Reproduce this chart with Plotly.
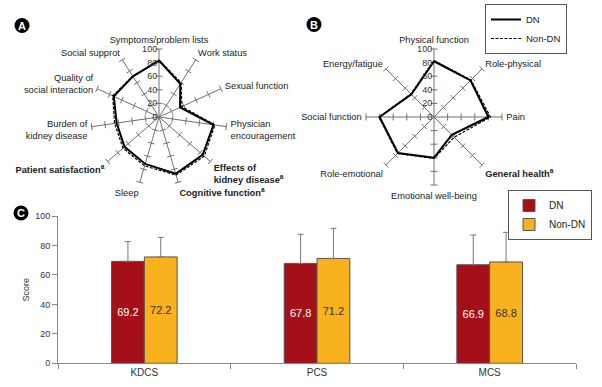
import plotly.graph_objects as go

# ---------- Data ----------
kdq_labels = [
    "Symptoms/problem lists",
    "Work status",
    "Sexual function",
    "Physician<br>encouragement",
    "<b>Effects of<br>kidney disease<sup>a</sup></b>",
    "<b>Cognitive function<sup>a</sup></b>",
    "Sleep",
    "<b>Patient satisfaction<sup>a</sup></b>",
    "Burden of<br>kidney disease",
    "Quality of<br>social interaction",
    "Social supprot",
]
kdq_dn = [83, 58, 34, 81, 85, 87, 72, 67, 63, 73, 71]
kdq_nondn = [84, 60, 37, 83, 88, 89, 75, 70, 66, 75, 71]

sf_labels = [
    "Physical function",
    "Role-physical",
    "Pain",
    "<b>General health<sup>a</sup></b>",
    "Emotional well-being",
    "Role-emotional",
    "Social function",
    "Energy/fatigue",
]
sf_dn = [82, 76, 80, 37, 60, 75, 80, 47]
sf_nondn = [83, 77, 83, 42, 61, 76, 81, 48]

bar_cats = ["KDCS", "PCS", "MCS"]
bar_dn = [69.2, 67.8, 66.9]
bar_nondn = [72.2, 71.2, 68.8]
sd_dn = [13.4, 19.8, 20.2]
sd_nondn = [13.3, 20.4, 20.1]

radial_ticks = [0, 20, 40, 60, 80, 100]

DN_RED = "#a50f17"
NON_ORANGE = "#fab11e"
FONT = "Arial, Liberation Sans, sans-serif"

fig = go.Figure()


def add_radar(labels, dn, nondn, polar, show_legend):
    n = len(labels)
    # spoke tick crosses
    rr, tt, aa = [], [], []
    for i, lab in enumerate(labels):
        for v in radial_ticks[1:]:
            rr.append(v)
            tt.append(lab)
            aa.append(i * 360.0 / n)
    fig.add_trace(go.Scatterpolar(
        r=rr, theta=tt, mode="markers", subplot=polar,
        marker=dict(symbol="line-ew", size=5, angle=aa,
                    line=dict(color="#707070", width=1)),
        showlegend=False, hoverinfo="skip"))
    fig.add_trace(go.Scatterpolar(
        r=dn + dn[:1], theta=labels + labels[:1], mode="lines",
        subplot=polar, name="DN", legend="legend",
        line=dict(color="black", width=2),
        showlegend=show_legend))
    fig.add_trace(go.Scatterpolar(
        r=nondn + nondn[:1], theta=labels + labels[:1], mode="lines",
        subplot=polar, name="Non-DN", legend="legend",
        line=dict(color="black", width=1.2, dash="3px,1.5px"),
        showlegend=show_legend))


add_radar(kdq_labels, kdq_dn, kdq_nondn, "polar", False)
add_radar(sf_labels, sf_dn, sf_nondn, "polar2", True)

# bars
fig.add_trace(go.Bar(
    x=bar_cats, y=bar_dn, name="DN", legend="legend2",
    marker=dict(color=DN_RED, line=dict(color="#555555", width=1)),
    text=[f"{v:.1f}" for v in bar_dn], textposition="inside",
    insidetextanchor="middle", textangle=0,
    textfont=dict(color="white", size=11, family=FONT),
    error_y=dict(type="data", symmetric=False, array=sd_dn,
                 arrayminus=[0] * 3, color="#777777", thickness=1, width=3)))
fig.add_trace(go.Bar(
    x=bar_cats, y=bar_nondn, name="Non-DN", legend="legend2",
    marker=dict(color=NON_ORANGE, line=dict(color="#555555", width=1)),
    text=[f"{v:.1f}" for v in bar_nondn], textposition="inside",
    insidetextanchor="middle", textangle=0,
    textfont=dict(color="#333333", size=11, family=FONT),
    error_y=dict(type="data", symmetric=False, array=sd_nondn,
                 arrayminus=[0] * 3, color="#777777", thickness=1, width=3)))

W, H = 602, 387


def px_x(v):
    return v / W


def px_y(v):
    return 1 - v / H


polar_common = dict(
    bgcolor="rgba(0,0,0,0)",
    radialaxis=dict(range=[0, 100], tickvals=radial_ticks, showline=False,
                    showgrid=False, ticks="", angle=90, tickangle=90,
                    side="counterclockwise",
                    tickfont=dict(size=9, color="#333333", family=FONT)),
    angularaxis=dict(direction="clockwise", rotation=90, showline=False,
                     showgrid=True, gridcolor="#707070", gridwidth=1,
                     ticks="outside", ticklen=2, tickcolor="rgba(0,0,0,0)",
                     tickfont=dict(size=9.3, color="#222222", family=FONT)),
)

fig.update_layout(
    width=W, height=H,
    margin=dict(l=0, r=0, t=0, b=0),
    paper_bgcolor="white", plot_bgcolor="white",
    font=dict(family=FONT, color="#333333"),
    barmode="group", bargap=0.62, bargroupgap=0,
    polar=dict(domain=dict(x=[px_x(91), px_x(227)], y=[px_y(185), px_y(49)]),
               **polar_common),
    polar2=dict(domain=dict(x=[px_x(366), px_x(502)], y=[px_y(185), px_y(49)]),
                **polar_common),
    xaxis=dict(domain=[px_x(58), px_x(576)], automargin=False,
               showline=True, linecolor="#888888", linewidth=1,
               ticks="outside", tickson="boundaries", ticklen=5,
               tickcolor="#888888", type="category",
               tickfont=dict(size=10, color="#333333", family=FONT)),
    yaxis=dict(domain=[px_y(363.3), px_y(216)], range=[0, 100],
               automargin=False, showline=True, linecolor="#888888",
               linewidth=1, ticks="outside", ticklen=5, tickcolor="#888888",
               tickvals=radial_ticks, showgrid=False, zeroline=False,
               tickfont=dict(size=9, color="#333333", family=FONT),
               title=dict(text="Score", standoff=4,
                          font=dict(size=9, color="#333333", family=FONT))),
    legend=dict(x=px_x(567), y=px_y(4), xanchor="right", yanchor="top",
                bordercolor="#555555", borderwidth=1, bgcolor="white",
                font=dict(size=9.5, color="#222222", family=FONT),
                itemwidth=30, tracegroupgap=0),
    legend2=dict(x=px_x(592), y=px_y(190), xanchor="right", yanchor="top",
                 bordercolor="#555555", borderwidth=1, bgcolor="white",
                 font=dict(size=10, color="#222222", family=FONT),
                 itemwidth=30, tracegroupgap=0),
)

# panel badges
for letter, cx, cy in [("A", 22, 25.5), ("B", 314, 24.5), ("C", 21, 213)]:
    r = 7.5
    fig.add_shape(type="circle", xref="paper", yref="paper", layer="below",
                  x0=px_x(cx - r), x1=px_x(cx + r),
                  y0=px_y(cy + r), y1=px_y(cy - r),
                  fillcolor="black", line=dict(color="black", width=0))
    fig.add_annotation(x=px_x(cx), y=px_y(cy), xref="paper", yref="paper",
                       xanchor="center", yanchor="middle",
                       text=f"<b>{letter}</b>", showarrow=False,
                       font=dict(size=11, color="white", family=FONT))

fig.write_html("out.html", config={"displayModeBar": False},
               post_script="document.body.style.margin='0px';")
